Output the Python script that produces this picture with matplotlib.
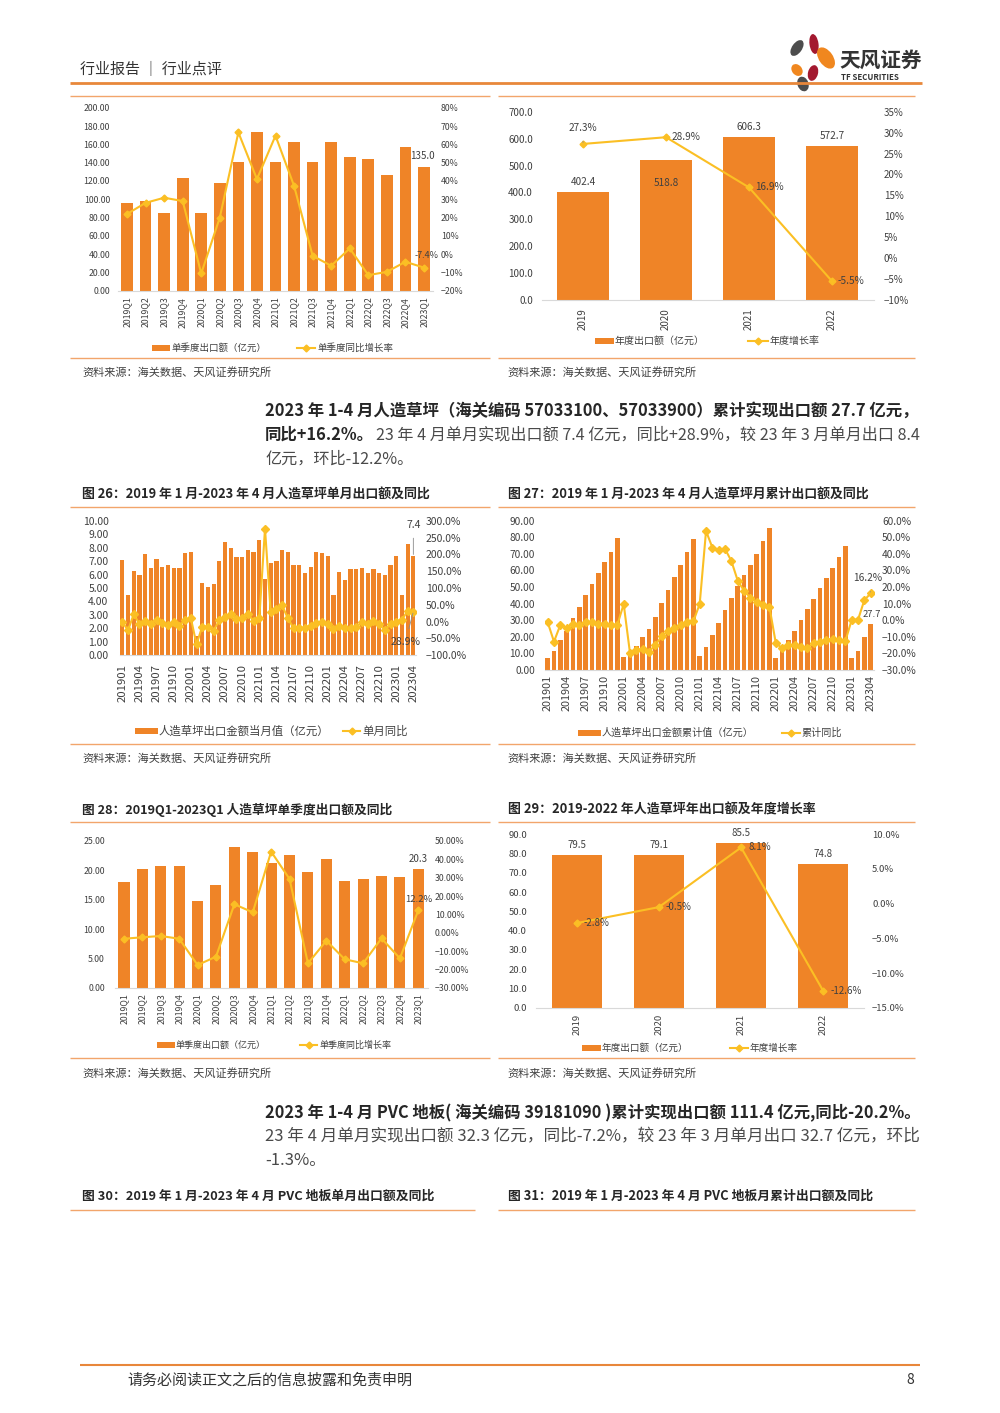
import numpy as np
import matplotlib
matplotlib.use('Agg')
import matplotlib.pyplot as plt
from matplotlib.patches import Rectangle, Ellipse
from matplotlib.ticker import StrMethodFormatter

plt.rcParams['font.family'] = ['Noto Sans CJK SC', 'DejaVu Sans']

W, H = 1000, 1413
BAR = '#EF8427'
LINE = '#FBBF24'
DIV = '#F2A56B'
TXT = '#404040'

# ---------------- data ----------------
quarters = ['2019Q1', '2019Q2', '2019Q3', '2019Q4', '2020Q1', '2020Q2', '2020Q3', '2020Q4',
            '2021Q1', '2021Q2', '2021Q3', '2021Q4', '2022Q1', '2022Q2', '2022Q3', '2022Q4', '2023Q1']
years = ['2019', '2020', '2021', '2022']
months = [f'{y}{m:02d}' for y in range(2019, 2024) for m in range(1, 13)][:52]

# PVC floor, quarterly (top-left) and yearly (top-right)
pvc_q = [95.4, 98.0, 84.5, 123.5, 85.2, 118.0, 141.0, 173.8, 141.0, 162.4, 140.3, 162.8,
         145.7, 143.9, 126.4, 156.6, 135.0]
pvc_q_yoy = [21.9, 28.0, 30.8, 29.0, -10.6, 20.0, 66.5, 41.0, 64.7, 37.3, -0.9, -6.4,
             3.1, -11.5, -9.7, -4.2, -7.4]
pvc_y = [402.4, 518.8, 606.3, 572.7]
pvc_y_yoy = [27.3, 28.9, 16.9, -5.5]

# artificial turf, monthly value and yoy
turf_m = [7.1, 4.5, 6.3, 6.0, 7.5, 6.5, 7.2, 6.6, 6.7, 6.5, 6.5, 7.6,
          7.7, 1.4, 5.4, 5.1, 5.3, 7.0, 8.4, 8.0, 7.3, 7.3, 7.8, 7.7,
          8.6, 5.7, 6.9, 7.0, 7.8, 7.7, 6.7, 6.7, 6.1, 6.6, 7.7, 7.6,
          7.4, 4.5, 6.2, 5.6, 6.4, 6.4, 6.5, 6.1, 6.4, 6.1, 6.0, 6.7,
          7.4, 4.5, 8.3, 7.4]
turf_m_yoy = [-2, -26, 22, -8, 2, -6, 5, -5, -10, -2, -12, 5,
              10, -68, -15, -15, -28, 5, 12, 22, 8, 10, 22, 2,
              10, 277, 28, 38, 48, 10, -20, -20, -18, -12, -4, 0,
              -8, -22, -12, -18, -20, -16, -2, -8, 2, -8, -25, -8,
              0, 5, 32, 28.9]

# artificial turf, cumulative value and yoy
turf_cum = [7.1, 11.6, 18.0, 23.5, 31.5, 37.9, 45.2, 51.8, 58.5, 65.0, 71.4, 79.5,
            7.7, 9.1, 14.5, 19.6, 24.9, 31.9, 40.4, 48.5, 55.8, 63.0, 70.9, 79.1,
            8.5, 14.0, 21.0, 28.1, 36.0, 43.6, 50.4, 57.0, 63.2, 69.7, 77.6, 85.5,
            7.2, 11.6, 17.8, 23.7, 30.0, 36.6, 43.0, 49.2, 55.6, 61.7, 67.9, 74.8,
            7.4, 11.7, 20.1, 27.7]
turf_cum_yoy = [-1.2, -12.9, -2.8, -4.8, -2.0, -2.8, -1.2, -1.2, -2.0, -2.0, -2.8, -2.8,
                9.8, -19.9, -17.9, -17.3, -18.9, -14.9, -9.8, -6.4, -4.8, -2.8, -0.8, -0.6,
                9.8, 53.8, 43.8, 42.4, 43.0, 35.7, 23.9, 17.7, 13.7, 10.8, 9.2, 8.2,
                -13.5, -16.9, -14.9, -14.9, -15.9, -16.5, -13.9, -13.3, -11.8, -11.2, -12.2, -12.4,
                0.2, 0.4, 12.2, 16.2]

# artificial turf, quarterly and yearly
turf_q = [18.0, 20.2, 20.7, 20.8, 14.8, 17.5, 23.9, 23.1, 21.3, 22.6, 19.8, 22.0,
          18.2, 18.6, 19.1, 18.9, 20.3]
turf_q_yoy = [-3.3, -2.5, -1.8, -3.3, -17.6, -13.1, 15.5, 11.1, 44.2, 29.3, -16.7, -4.4,
              -14.5, -16.7, -3.1, -14.0, 12.2]
turf_y = [79.5, 79.1, 85.5, 74.8]
turf_y_yoy = [-2.8, -0.5, 8.1, -12.6]

fig = plt.figure(figsize=(W / 100, H / 100), dpi=100)
page = fig.add_axes([0, 0, 1, 1])
page.set_xlim(0, W)
page.set_ylim(H, 0)
page.axis('off')
renderer = fig.canvas.get_renderer()


def fit(x0, x1, y, s, fs, **kw):
    t = page.text(x0, y, s, fontsize=fs, va='center', ha='left', **kw)
    w = t.get_window_extent(renderer).width
    t.set_fontsize(fs * (x1 - x0) / w)
    return t


def hline(y, x0, x1, color=DIV, lw=1.0):
    page.plot([x0, x1], [y, y], color=color, lw=lw, solid_capstyle='butt')


def legend(y, bx, t1, lx, t2, fs):
    page.add_patch(Rectangle((bx[0], y - 3), bx[1] - bx[0], 6, color=BAR, lw=0))
    page.text(bx[1] + 1, y, t1, fontsize=fs, va='center', color=TXT)
    page.plot(lx, [y, y], color=LINE, lw=1.5)
    page.plot([(lx[0] + lx[1]) / 2], [y], marker='D', ms=3.5, color=LINE)
    page.text(lx[1] + 2, y, t2, fontsize=fs, va='center', color=TXT)


def combo(box, cats, bars, line, ylim, ystep, yfmt, rlim, rstep, rfmt,
          fs, pads, bw=0.62, every=1, ms=3.5):
    x0, y0, x1, y1 = box
    ax = fig.add_axes([x0 / W, 1 - y1 / H, (x1 - x0) / W, (y1 - y0) / H])
    n = len(cats)
    xs = np.arange(n)
    ax.bar(xs, bars, width=bw, color=BAR, zorder=2)
    ax.set_xlim(-0.5, n - 0.5)
    ax.set_ylim(*ylim)
    ax.set_yticks(np.arange(ylim[0], ylim[1] + ystep / 2, ystep))
    ax.yaxis.set_major_formatter(StrMethodFormatter(yfmt))
    ax.set_xticks(xs[::every])
    ax.set_xticklabels(cats[::every], rotation=90)
    for s in ['top', 'left', 'right']:
        ax.spines[s].set_visible(False)
    ax.spines['bottom'].set_color('#D9D9D9')
    ax.tick_params(length=0, labelsize=fs, labelcolor=TXT)
    ax.tick_params(axis='y', pad=pads[0] * 0.72)
    ax.tick_params(axis='x', pad=pads[2] * 0.72)
    ax.patch.set_alpha(0)
    ax2 = ax.twinx()
    ax2.plot(xs, line, color=LINE, lw=1.5, marker='D', ms=ms, zorder=3)
    ax2.set_ylim(*rlim)
    ax2.set_yticks(np.arange(rlim[0], rlim[1] + rstep / 2, rstep))
    ax2.yaxis.set_major_formatter(StrMethodFormatter(rfmt))
    for s in ax2.spines.values():
        s.set_visible(False)
    ax2.tick_params(length=0, labelsize=fs, labelcolor=TXT, pad=pads[1] * 0.72)
    return ax, ax2


def lab(ax, x, y, s, dx, dy, fs, ha='center', leader=False):
    kw = {}
    if leader:
        kw['arrowprops'] = dict(arrowstyle='-', color='#8C8C8C', lw=0.6, shrinkA=4, shrinkB=1)
    ax.annotate(s, (x, y), xytext=(dx, dy), textcoords='offset pixels', ha=ha, va='center',
                fontsize=fs, color=TXT, **kw)


# ---------------- header ----------------
fit(80, 222, 70, '行业报告 ｜ 行业点评', 11, color='#333333')
hline(83, 70, 922, color='#E8873A', lw=2)
for (cx, cy, w, h, a, c) in [(797, 48, 10, 18, 35, '#4D4D4D'), (814, 44, 9, 20, -8, '#A3192F'),
                             (826, 58, 14, 24, -35, '#F0871F'), (797, 70, 10, 13, -40, '#F0871F'),
                             (813, 73, 10, 16, 15, '#A3192F'), (803, 84, 11, 15, -20, '#4D4D4D')]:
    page.add_patch(Ellipse((cx, cy), w, h, angle=a, color=c, lw=0))
fit(839, 922, 60, '天风证券', 14, fontweight='bold', color='#333333')
fit(841, 899, 77, 'TF SECURITIES', 5, fontweight='bold', color='#333333')

# ---------------- top charts (PVC) ----------------
for y in (96, 358):
    hline(y, 70, 490)
    hline(y, 498, 915)

ax, ax2 = combo((117.7, 107.7, 433.3, 290.7), quarters, pvc_q, pvc_q_yoy, (0, 200), 20, '{x:.2f}',
                (-20, 80), 10, '{x:.0f}%', 6.3, (7.7, 7.4, 6), bw=0.63)
lab(ax, 16, pvc_q[-1], f'{pvc_q[-1]:.1f}', -2, 11, 7)
lab(ax2, 16, pvc_q_yoy[-1], f'{pvc_q_yoy[-1]:.1f}%', 3, 12, 6.5)
legend(348, (152, 170), '单季度出口额（亿元）', (297, 315), '单季度同比增长率', 6.8)

ax, ax2 = combo((541.5, 111.7, 873.5, 300), years, pvc_y, pvc_y_yoy, (0, 700), 100, '{x:.1f}',
                (-10, 35), 5, '{x:.0f}%', 7, (8.5, 10.5, 8))
for i, v in enumerate(pvc_y):
    lab(ax, i, v, f'{v:.1f}', 0, -23 if i == 1 else 10, 7.2)
lab(ax2, 0, pvc_y_yoy[0], f'{pvc_y_yoy[0]:.1f}%', 0, 16, 7.2, leader=True)
for i in (1, 2, 3):
    lab(ax2, i, pvc_y_yoy[i], f'{pvc_y_yoy[i]:.1f}%', 6, 0, 7.2, ha='left')
legend(341, (595, 614), '年度出口额（亿元）', (748, 768), '年度增长率', 7.2)

page.text(82, 372, '资料来源：海关数据、天风证券研究所', fontsize=8, va='center', color=TXT)
page.text(507, 372, '资料来源：海关数据、天风证券研究所', fontsize=8, va='center', color=TXT)

# ---------------- paragraph 1 ----------------
t = fit(265, 918, 411, '2023 年 1-4 月人造草坪（海关编码 57033100、57033900）累计实现出口额 27.7 亿元，',
        12, fontweight='bold', color='#262626')
pfs = t.get_fontsize()
b = page.text(265, 435, '同比+16.2%。', fontsize=pfs, fontweight='bold', va='center', color='#262626')
bx1 = 265 + b.get_window_extent(renderer).width
r = fit(bx1 + 2, 918, 435, '23 年 4 月单月实现出口额 7.4 亿元，同比+28.9%，较 23 年 3 月单月出口 8.4',
        pfs, color='#4A4A4A')
page.text(265, 459, '亿元，环比-12.2%。', fontsize=r.get_fontsize(), va='center', color='#4A4A4A')

# ---------------- middle charts (turf monthly) ----------------
fit(82, 433, 494, '图 26：2019 年 1 月-2023 年 4 月人造草坪单月出口额及同比', 9.5, fontweight='bold', color='#262626')
fit(508, 872, 494, '图 27：2019 年 1 月-2023 年 4 月人造草坪月累计出口额及同比', 9.5, fontweight='bold', color='#262626')
for y in (507, 744):
    hline(y, 70, 490)
    hline(y, 498, 915)

ax, ax2 = combo((119.5, 521, 416.2, 655), months, turf_m, turf_m_yoy, (0, 10), 1, '{x:.2f}',
                (-100, 300), 50, '{x:.1f}%', 7.5, (11, 9.8, 9), bw=0.75, every=3, ms=4)
for tl in ax.get_xticklabels():
    tl.set_fontsize(8.2)
lab(ax, 51, turf_m[-1], f'{turf_m[-1]:.1f}', 0, 31, 7.5, leader=True)
lab(ax2, 51, turf_m_yoy[-1], f'{turf_m_yoy[-1]:.1f}%', -8, -30, 7.5, leader=True)
legend(731, (135, 158), '人造草坪出口金额当月值（亿元）', (343, 360), '单月同比', 8.2)

ax, ax2 = combo((544.5, 520.7, 873.9, 670), months, turf_cum, turf_cum_yoy, (0, 90), 10, '{x:.2f}',
                (-30, 60), 10, '{x:.1f}%', 7.3, (9.5, 8, 5), bw=0.74, every=3, ms=4)
for tl in ax.get_xticklabels():
    tl.set_fontsize(7.8)
lab(ax, 51, turf_cum[-1], f'{turf_cum[-1]:.1f}', 1, 10, 6.8)
lab(ax2, 51, turf_cum_yoy[-1], f'{turf_cum_yoy[-1]:.1f}%', -3, 15, 7.3, leader=True)
legend(733, (578, 601), '人造草坪出口金额累计值（亿元）', (782, 800), '累计同比', 7.3)

page.text(82, 758, '资料来源：海关数据、天风证券研究所', fontsize=8, va='center', color=TXT)
page.text(507, 758, '资料来源：海关数据、天风证券研究所', fontsize=8, va='center', color=TXT)

# ---------------- lower charts (turf quarterly / yearly) ----------------
fit(82, 394, 810, '图 28：2019Q1-2023Q1 人造草坪单季度出口额及同比', 9.5, fontweight='bold', color='#262626')
fit(508, 817, 810, '图 29：2019-2022 年人造草坪年出口额及年度增长率', 9.5, fontweight='bold', color='#262626')
for y in (822, 1058):
    hline(y, 70, 490)
    hline(y, 498, 915)

ax, ax2 = combo((114.8, 841, 427.5, 987.7), quarters, turf_q, turf_q_yoy, (0, 25), 5, '{x:.2f}',
                (-30, 50), 10, '{x:.2f}%', 6.3, (9.8, 7.5, 5.3), bw=0.6)
lab(ax, 16, turf_q[-1], f'{turf_q[-1]:.1f}', 0, 10, 7)
lab(ax2, 16, turf_q_yoy[-1], f'{turf_q_yoy[-1]:.1f}%', 0, 11, 6.8)
legend(1045, (157, 175), '单季度出口额（亿元）', (300, 317), '单季度同比增长率', 6.5)

ax, ax2 = combo((535.6, 834.3, 864.4, 1007.7), years, turf_y, turf_y_yoy, (0, 90), 10, '{x:.1f}',
                (-15, 10), 5, '{x:.1f}%', 6.8, (8.6, 7.6, 6.3), bw=0.61)
for i, v in enumerate(turf_y):
    lab(ax, i, v, f'{v:.1f}', 0, 10, 7)
for i, v in enumerate(turf_y_yoy):
    lab(ax2, i, v, f'{v:.1f}%', 7, 0, 7, ha='left')
legend(1048, (582, 601), '年度出口额（亿元）', (730, 748), '年度增长率', 6.9)

page.text(82, 1073, '资料来源：海关数据、天风证券研究所', fontsize=8, va='center', color=TXT)
page.text(507, 1073, '资料来源：海关数据、天风证券研究所', fontsize=8, va='center', color=TXT)

# ---------------- paragraph 2 ----------------
t = fit(265, 918, 1113, '2023 年 1-4 月 PVC 地板( 海关编码 39181090 )累计实现出口额 111.4 亿元,同比-20.2%。',
        12, fontweight='bold', color='#262626')
r = fit(265, 918, 1137, '23 年 4 月单月实现出口额 32.3 亿元，同比-7.2%，较 23 年 3 月单月出口 32.7 亿元，环比',
        12, color='#4A4A4A')
page.text(265, 1161, '-1.3%。', fontsize=r.get_fontsize(), va='center', color='#4A4A4A')

fit(82, 435, 1196, '图 30：2019 年 1 月-2023 年 4 月 PVC 地板单月出口额及同比', 9.5, fontweight='bold', color='#262626')
fit(508, 875, 1196, '图 31：2019 年 1 月-2023 年 4 月 PVC 地板月累计出口额及同比', 9.5, fontweight='bold', color='#262626')
hline(1210, 70, 475)
hline(1210, 498, 915)

# ---------------- footer ----------------
hline(1365, 80, 920, color='#E8873A', lw=1.5)
fit(127, 413, 1380, '请务必阅读正文之后的信息披露和免责申明', 10, color='#333333')
page.text(910, 1380, '8', fontsize=10, va='center', ha='center', color='#333333')

fig.savefig('out.png', dpi=100)
